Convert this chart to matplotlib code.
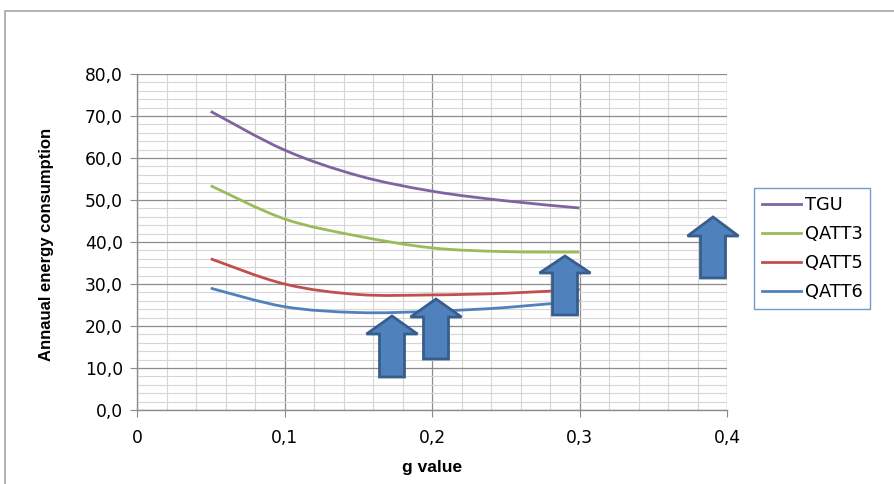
import numpy as np
import matplotlib
matplotlib.use("Agg")
import matplotlib.pyplot as plt
from matplotlib.path import Path
from matplotlib.patches import PathPatch, Polygon, Rectangle
from matplotlib.lines import Line2D
from matplotlib.ticker import MultipleLocator, FuncFormatter

# data
g_values = [0.05, 0.10, 0.15, 0.20, 0.25, 0.30]
tgu = [71.1, 61.9, 55.8, 52.1, 49.8, 48.1]
qatt3 = [53.4, 45.5, 41.4, 38.6, 37.7, 37.6]
qatt5 = [36.0, 30.0, 27.5, 27.4, 27.8, 28.7]
qatt6 = [29.0, 24.6, 23.2, 23.5, 24.4, 26.0]
series_names = ["TGU", "QATT3", "QATT5", "QATT6"]
series_colors = ["#8064A2", "#9BBB59", "#C0504D", "#4F81BD"]

W, H = 894, 484


def smooth_path(x, y):
    # excel style smoothed line: cubic bezier through the points
    x = np.asarray(x, float)
    y = np.asarray(y, float)
    pts = np.column_stack([x, y])
    verts = [pts[0]]
    codes = [Path.MOVETO]
    n = len(pts)
    for i in range(n - 1):
        p0 = pts[i - 1] if i > 0 else pts[i]
        p1 = pts[i]
        p2 = pts[i + 1]
        p3 = pts[i + 2] if i + 2 < n else pts[i + 1]
        c1 = p1 + (p2 - p0) / 6.0
        c2 = p2 - (p3 - p1) / 6.0
        verts += [c1, c2, p2]
        codes += [Path.CURVE4] * 3
    return Path(verts, codes)


fig = plt.figure(figsize=(W / 100, H / 100), dpi=100)
fig.patch.set_facecolor("white")

# outer chart frame (clipped at right and bottom)
fig.patches.append(Rectangle((4.5 / W, -0.1), 1.5, (H - 11.5) / H + 0.1,
                             transform=fig.transFigure, fill=False,
                             edgecolor="#a6a6a6", linewidth=1.2))

ax = fig.add_axes([137 / W, (H - 410) / H, 590 / W, 336 / H])
ax.set_xlim(0, 0.4)
ax.set_ylim(0, 80)

ax.xaxis.set_major_locator(MultipleLocator(0.1))
ax.xaxis.set_minor_locator(MultipleLocator(0.02))
ax.yaxis.set_major_locator(MultipleLocator(10))
ax.yaxis.set_minor_locator(MultipleLocator(2))
ax.grid(which="major", color="#8c8c8c", linewidth=0.9)
ax.grid(which="minor", color="#d6d6d6", linewidth=0.8)
ax.set_axisbelow(True)

for s in ["top", "right"]:
    ax.spines[s].set_visible(False)
for s in ["left", "bottom"]:
    ax.spines[s].set_color("#8c8c8c")
    ax.spines[s].set_linewidth(1.0)

ax.tick_params(which="major", direction="out", length=5, color="#8c8c8c",
               labelsize=12.3, pad=5)
ax.tick_params(which="minor", length=0)
ax.tick_params(axis="x", pad=9)


def fmt_x(v, pos):
    if abs(v) < 1e-9:
        return "0"
    return ("%.1f" % v).replace(".", ",")


def fmt_y(v, pos):
    return ("%.1f" % v).replace(".", ",")


ax.xaxis.set_major_formatter(FuncFormatter(fmt_x))
ax.yaxis.set_major_formatter(FuncFormatter(fmt_y))

for vals, col in zip([tgu, qatt3, qatt5, qatt6], series_colors):
    ax.add_patch(PathPatch(smooth_path(g_values, vals), fill=False,
                           edgecolor=col, linewidth=2.0, capstyle="butt"))

ax.set_xlabel("g value", fontsize=12.5, fontweight="bold",
              family=["Liberation Sans", "DejaVu Sans"], labelpad=9)
fig.text(47 / W, 1 - 244 / H, "Annaual energy consumption", rotation=90,
         ha="center", va="center", fontsize=12, fontweight="bold",
         family=["Liberation Sans", "DejaVu Sans"])

handles = [Line2D([], [], color=c, linewidth=2.0) for c in series_colors]
leg = fig.legend(handles, series_names, loc="upper left",
                 bbox_to_anchor=(754 / W, 1 - 188 / H),
                 frameon=True, fancybox=False, fontsize=12.8,
                 handlelength=2.2, handletextpad=0.2, labelspacing=0.62,
                 borderpad=0.45, borderaxespad=0)
leg.get_frame().set_edgecolor("#4F81BD")
leg.get_frame().set_linewidth(1.0)

# block arrows: (tip_x, tip_y, head_base_y, bottom_y) in pixels from top-left
arrows = [(392, 316, 334, 377), (436, 299, 317, 359),
          (565, 256, 273, 315), (713, 217, 236, 278)]
for tx, ty, hy, by in arrows:
    hw, sw = 25.5, 12.5
    pts = [(tx, ty), (tx + hw, hy), (tx + sw, hy), (tx + sw, by),
           (tx - sw, by), (tx - sw, hy), (tx - hw, hy)]
    pts = [(px / W, 1 - py / H) for px, py in pts]
    fig.patches.append(Polygon(pts, closed=True, transform=fig.transFigure,
                               facecolor="#4F81BD", edgecolor="#385D8A",
                               linewidth=2.0, joinstyle="miter"))

fig.savefig("out.png", dpi=100)
